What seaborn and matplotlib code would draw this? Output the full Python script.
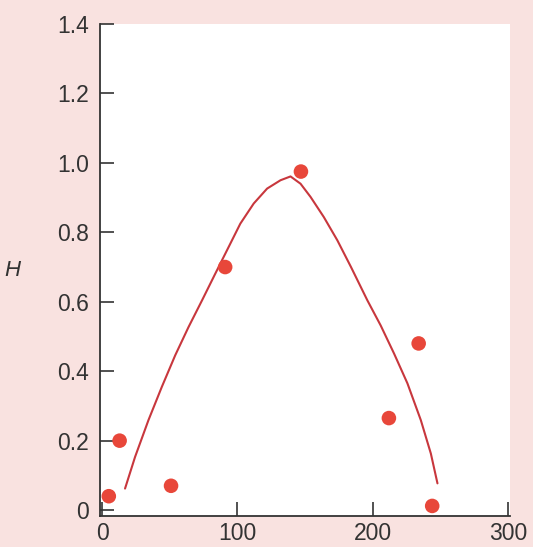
import matplotlib
matplotlib.use("Agg")
import matplotlib.pyplot as plt
import seaborn as sns
import pandas as pd

# Observed points
obs_x = [5, 13, 51, 91, 147, 212, 234, 244]
obs_h = [0.04, 0.20, 0.07, 0.70, 0.975, 0.265, 0.48, 0.012]

# Fitted curve
fit_x = [17.0, 24.4, 34.3, 44.2, 54.1, 63.9, 73.9, 83.7, 93.6, 102.2, 112.1, 122.0,
         131.9, 139.3, 146.7, 154.1, 163.9, 173.9, 184.0, 196.1, 205.9,
         215.8, 225.7, 235.6, 243.0, 247.9]
fit_h = [0.062, 0.153, 0.259, 0.355, 0.446, 0.527, 0.604, 0.681, 0.758, 0.825, 0.883,
         0.926, 0.950, 0.961, 0.940, 0.902, 0.844, 0.777, 0.700, 0.604, 0.532,
         0.451, 0.365, 0.259, 0.163, 0.077]

x_ticks = [0, 100, 200, 300]
y_ticks = [0, 0.2, 0.4, 0.6, 0.8, 1.0, 1.2, 1.4]
y_tick_labels = ["0", "0.2", "0.4", "0.6", "0.8", "1.0", "1.2", "1.4"]

sns.set_style("ticks")
plt.rcParams['font.family'] = ['Liberation Sans', 'DejaVu Sans']

fig = plt.figure(figsize=(5.33, 5.47), dpi=100)
fig.patch.set_facecolor('#f9e2e0')
ax = fig.add_axes([100/533, (547-516)/547, (510-100)/533, (516-24)/547])
ax.set_facecolor('white')

df_obs = pd.DataFrame({'x': obs_x, 'H': obs_h})
df_fit = pd.DataFrame({'x': fit_x, 'H': fit_h})

sns.lineplot(data=df_fit, x='x', y='H', sort=False, ax=ax, color='#c8373d',
             linewidth=1.5, estimator=None)
sns.scatterplot(data=df_obs, x='x', y='H', ax=ax, color='#e8473a', s=110,
                edgecolor='none', zorder=3)

ax.set_xlim(-1.5, 301.5)
ax.set_ylim(-0.017, 1.4)
ax.set_xticks(x_ticks)
ax.set_yticks(y_ticks)
ax.set_yticklabels(y_tick_labels)
ax.tick_params(direction='in', length=10, width=1.2, labelsize=16.5,
               colors='#333333', labelcolor='#333333')
ax.tick_params(axis='y', pad=8)
ax.tick_params(axis='x', pad=4)
for side in ['top', 'right']:
    ax.spines[side].set_visible(False)
for side in ['left', 'bottom']:
    ax.spines[side].set_linewidth(1.3)
    ax.spines[side].set_color('#333333')

ax.set_xlabel('')
ax.set_ylabel('H', rotation=0, fontsize=16, style='italic', color='#333333',
              labelpad=32, va='center')

fig.savefig('out.png', dpi=100, facecolor=fig.get_facecolor())
